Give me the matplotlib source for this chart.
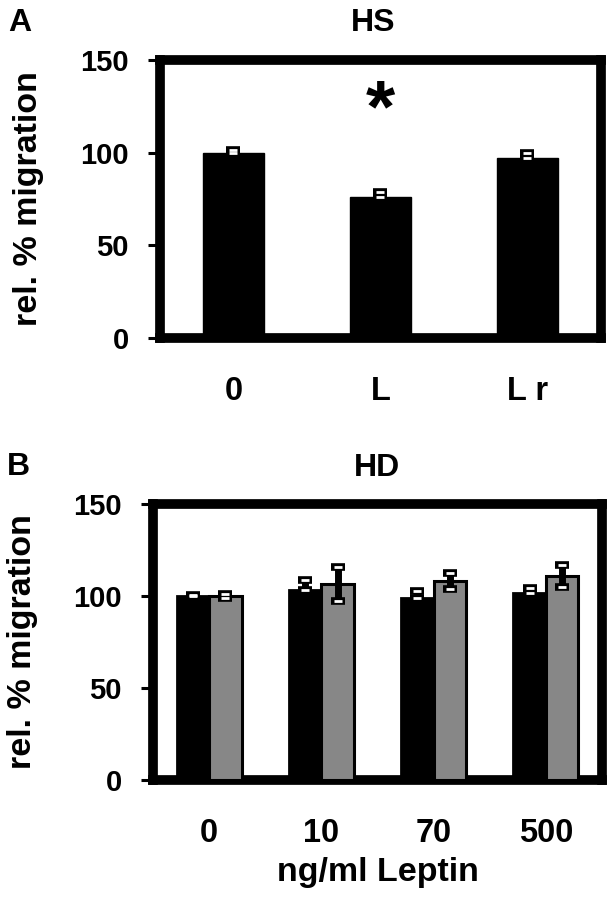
import numpy as np
import matplotlib
matplotlib.use("Agg")
from matplotlib import pyplot as plt

plt.rcParams["font.family"] = ["Liberation Sans", "DejaVu Sans"]
plt.rcParams["font.weight"] = "bold"

# panel A (HS)
hs_labels = ["0", "L", "L r"]
hs_values = [100, 76, 97]
hs_err = [1.5, 3, 2.7]

# panel B (HD)
hd_labels = ["0", "10", "70", "500"]
hd_black = [100, 103, 99, 101.5]
hd_black_err = [0.5, 5.5, 3.5, 2.8]
hd_gray = [100, 106.5, 108, 110.8]
hd_gray_err = [1, 9, 4.3, 6]

yticks = [0, 50, 100, 150]
GRAY = "#878787"


def style_axes(ax):
    for sp in ax.spines.values():
        sp.set_linewidth(7)
        sp.set_color("black")
        sp.set_capstyle("projecting")
    ax.set_ylim(0, 150)
    ax.set_yticks(yticks)
    ax.tick_params(axis="y", length=8.5, width=2.2, pad=14, labelsize=21)
    ax.tick_params(axis="x", length=0, pad=27, labelsize=23.5)
    for lab in ax.get_xticklabels() + ax.get_yticklabels():
        lab.set_fontweight("bold")


def err_bars(ax, x, y, lo, hi):
    ax.errorbar(x, y, yerr=[lo, hi], fmt="none", ecolor="black",
                elinewidth=5, capsize=4.7, capthick=5.5, zorder=4)
    ax.errorbar(x, y, yerr=[lo, hi], fmt="none", ecolor="white",
                elinewidth=0, capsize=2.6, capthick=2, zorder=5)


fig = plt.figure(figsize=(6.09, 9.0), dpi=100)

# ---- A
ax1 = fig.add_axes([0.2627, 0.6244, 0.7241, 0.3089])
x1 = np.arange(len(hs_labels))
ax1.bar(x1, hs_values, width=0.42, color="black", edgecolor="black", linewidth=1, zorder=3)
err_bars(ax1, x1, hs_values, np.zeros(len(x1)), hs_err)
ax1.set_xlim(-0.5, 2.5)
ax1.set_xticks(x1)
ax1.set_xticklabels(hs_labels)
style_axes(ax1)
ax1.set_title("HS", fontsize=23, fontweight="bold", pad=21, x=0.483)
ax1.text(1, 122, "*", ha="center", va="center", fontsize=54, fontweight="bold")
ax1.set_ylabel("rel. % migration", fontsize=24.5, fontweight="bold")
ax1.yaxis.set_label_coords(-0.262, 0.5)

# ---- B
ax2 = fig.add_axes([0.2512, 0.1333, 0.7373, 0.3067])
x2 = np.arange(len(hd_labels))
w = 0.29
ax2.bar(x2 - w / 2, hd_black, width=w, color="black", edgecolor="black", linewidth=2, zorder=3)
ax2.bar(x2 + w / 2, hd_gray, width=w, color=GRAY, edgecolor="black", linewidth=2.2, zorder=3)
err_bars(ax2, x2 - w / 2, hd_black, np.zeros(len(x2)), hd_black_err)
err_bars(ax2, x2 + w / 2, hd_gray, hd_gray_err, hd_gray_err)
ax2.set_xlim(-0.5, 3.5)
ax2.set_xticks(x2)
ax2.set_xticklabels(hd_labels)
style_axes(ax2)
ax2.set_title("HD", fontsize=23, fontweight="bold", pad=20)
ax2.set_xlabel("ng/ml Leptin", fontsize=24.5, fontweight="bold", labelpad=6)
ax2.set_ylabel("rel. % migration", fontsize=24.5, fontweight="bold")
ax2.yaxis.set_label_coords(-0.255, 0.5)

fig.text(0.013, 0.966, "A", fontsize=23, fontweight="bold", va="baseline")
fig.text(0.012, 0.472, "B", fontsize=23, fontweight="bold", va="baseline")

fig.savefig("out.png", dpi=100)
